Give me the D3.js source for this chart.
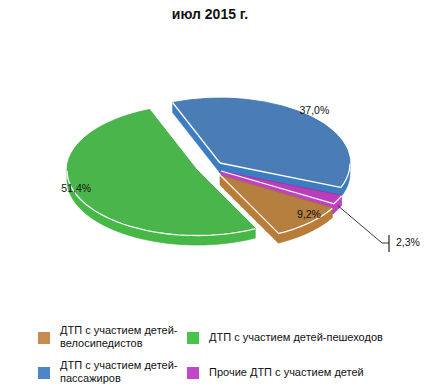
<!DOCTYPE html>
<html>
<head>
<meta charset="utf-8">
<script src="https://cdn.jsdelivr.net/npm/d3@7"></script>
<style>
  html, body { margin: 0; padding: 0; background: #fff; }
  svg { display: block; }
  text { font-family: "Liberation Sans", sans-serif; fill: #111; }
</style>
</head>
<body>
<svg id="chart"></svg>
<script>
// Data
const title = 'июл 2015 г.';
const categories = ['passengers', 'other', 'cyclists', 'pedestrians'];
const values = [37.0, 2.3, 9.2, 51.4];
const valueLabels = ['37,0%', '2,3%', '9,2%', '51,4%'];
const legendNames = [
  ['ДТП с участием детей-', 'велосипедистов'],
  ['ДТП с участием детей-пешеходов'],
  ['ДТП с участием детей-', 'пассажиров'],
  ['Прочие ДТП с участием детей']
];
const legendKeys = ['cyclists', 'pedestrians', 'passengers', 'other'];

// Constants for SVG dimensions
const width = 440;
const height = 392;
const radius = 130;
const tilt = 0.5;
const depth = 10;
const startDeg = -21.4;

// Colors
const topColor = d3.scaleOrdinal(categories, ['#4a7db6', '#b93fb9', '#b5803f', '#49b54b']);
const sideColor = d3.scaleOrdinal(categories, ['#3b7cc2', '#c040c8', '#b87c38', '#45b845']);
const rimColor = d3.scaleOrdinal(categories, ['#3a70ae', '#a030a8', '#a87030', '#36a83a']);
const swatchColor = d3.scaleOrdinal(categories, ['#4a86c8', '#c048c8', '#c88a50', '#48c44c']);

// Where each slice has been pulled out to
const apexX = d3.scaleOrdinal(categories, [220, 221, 220, 197]);
const apexY = d3.scaleOrdinal(categories, [163, 171, 175, 170]);

// Label nudges from the middle of the rim
const labelDx = d3.scaleOrdinal(categories, [2, 0, 0, -2]);
const labelDy = d3.scaleOrdinal(categories, [-6, 0, -7, -7]);

const svg = d3.select('#chart')
  .attr('width', width)
  .attr('height', height);

// Title
svg.append('text')
  .attr('x', 210)
  .attr('y', 19)
  .attr('text-anchor', 'middle')
  .attr('font-size', 14)
  .attr('font-weight', 'bold')
  .text(title);

// Pie layout
const pie = d3.pie()
  .sort(null)
  .startAngle(startDeg * Math.PI / 180)
  .endAngle((startDeg + 360) * Math.PI / 180);

const arcs = pie(values).map((d, i) => ({ ...d, key: categories[i] }));

// Point on a slice, angle measured clockwise from the top
const pt = (key, a, r, drop = 0) => [
  apexX(key) + r * Math.sin(a),
  apexY(key) - r * tilt * Math.cos(a) + drop
];

const line = d3.line();

// Rim samples for the part of an arc between two angles
function rim(key, a0, a1, drop) {
  return d3.range(0, 41).map(i => pt(key, a0 + (a1 - a0) * i / 40, radius, drop));
}

// Part of the slice facing the viewer, lower half of the ellipse
function frontRange(d) {
  const lo = Math.PI / 2;
  const hi = 3 * Math.PI / 2;
  const a0 = Math.max(d.startAngle, lo);
  const a1 = Math.min(d.endAngle, hi);
  return a0 < a1 ? [a0, a1] : null;
}

const arcTop = d3.arc().innerRadius(0).outerRadius(radius);

const slices = svg.selectAll('g.slice')
  .data(arcs)
  .enter().append('g')
    .attr('class', 'slice');

slices.each(function(d) {
  const g = d3.select(this);
  const side = sideColor(d.key);
  const wallEnds = [];
  if (Math.sin(d.endAngle) > 0) wallEnds.push(d.endAngle);
  if (Math.sin(d.startAngle) < 0) wallEnds.push(d.startAngle);

  // Radial walls
  wallEnds.forEach(a => {
    const pts = [pt(d.key, a, 0), pt(d.key, a, radius), pt(d.key, a, radius, depth), pt(d.key, a, 0, depth)];
    g.append('path')
      .attr('d', line(pts) + 'Z')
      .attr('fill', side)
      .attr('stroke', rimColor(d.key))
      .attr('stroke-width', 0.5);
  });

  // Outer wall
  const front = frontRange(d);
  if (front) {
    const pts = rim(d.key, front[0], front[1], 0).concat(rim(d.key, front[1], front[0], depth));
    g.append('path')
      .attr('d', line(pts) + 'Z')
      .attr('fill', side)
      .attr('stroke', rimColor(d.key))
      .attr('stroke-width', 0.6);
  }

  // Top face
  g.append('path')
    .attr('d', arcTop(d))
    .attr('transform', `translate(${apexX(d.key)},${apexY(d.key)}) scale(1,${tilt})`)
    .attr('fill', topColor(d.key))
    .attr('stroke', rimColor(d.key))
    .attr('stroke-width', 0.8)
    .attr('vector-effect', 'non-scaling-stroke');

  // White highlight where top meets the walls
  wallEnds.forEach(a => {
    g.append('path')
      .attr('d', line([pt(d.key, a, 0), pt(d.key, a, radius)]))
      .attr('fill', 'none')
      .attr('stroke', '#fff')
      .attr('stroke-width', 1.3);
  });
  if (front) {
    g.append('path')
      .attr('d', line(rim(d.key, front[0], front[1], 0.5)))
      .attr('fill', 'none')
      .attr('stroke', '#fff')
      .attr('stroke-width', 1.3);
  }
});

// Value labels
arcs.filter(d => d.key !== 'other').forEach(d => {
  const p = pt(d.key, (d.startAngle + d.endAngle) / 2, radius);
  svg.append('text')
    .attr('x', p[0] + labelDx(d.key))
    .attr('y', p[1] + labelDy(d.key))
    .attr('text-anchor', 'middle')
    .attr('dominant-baseline', 'middle')
    .attr('font-size', 10.5)
    .text(valueLabels[categories.indexOf(d.key)]);
});

// Leader for the small slice
const other = arcs.find(d => d.key === 'other');
const leaderStart = pt('other', (other.startAngle + other.endAngle) / 2, radius, 6);
svg.append('path')
  .attr('d', line([leaderStart, [382, 243], [389, 243]]))
  .attr('fill', 'none')
  .attr('stroke', '#222')
  .attr('stroke-width', 0.9);
svg.append('path')
  .attr('d', line([[389, 235], [389, 252]]))
  .attr('fill', 'none')
  .attr('stroke', '#222')
  .attr('stroke-width', 1.2);
svg.append('text')
  .attr('x', 396)
  .attr('y', 243)
  .attr('dominant-baseline', 'middle')
  .attr('font-size', 10.5)
  .text(valueLabels[categories.indexOf('other')]);

// Legend
const legendX = d3.scalePoint().domain([0, 1]).range([38, 187]);
const legendY = d3.scalePoint().domain([0, 1]).range([338, 373]);

const legend = svg.selectAll('g.legend-item')
  .data(legendKeys)
  .enter().append('g')
    .attr('class', 'legend-item')
    .attr('transform', (d, i) => `translate(${legendX(i % 2)},${legendY(Math.floor(i / 2))})`);

legend.append('rect')
  .attr('x', 0)
  .attr('y', -6)
  .attr('width', 12)
  .attr('height', 12)
  .attr('fill', d => swatchColor(d));

legend.each(function(d, i) {
  const lines = legendNames[i];
  d3.select(this).selectAll('text')
    .data(lines)
    .enter().append('text')
      .attr('x', 22)
      .attr('y', (t, j) => (j - (lines.length - 1) / 2) * 13)
      .attr('dominant-baseline', 'middle')
      .attr('font-size', 11)
      .text(t => t);
});
</script>
</body>
</html>
